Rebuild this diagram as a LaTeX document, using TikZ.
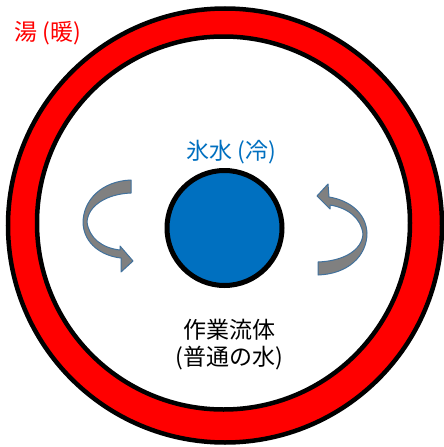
\documentclass[tikz,border=0pt]{standalone}
\usepackage{fontspec}
\setmainfont{Noto Sans CJK JP}
\definecolor{hotred}{HTML}{FF0000}
\definecolor{iceblue}{HTML}{0070C0}
\definecolor{arrowgray}{HTML}{808080}
\definecolor{arrowedge}{HTML}{41719C}
\begin{document}
\begin{tikzpicture}[x=1pt,y=-1pt,
  ringline/.style={line width=4.5pt,draw=black},
  lbl/.style={inner sep=0pt,font=\fontsize{23}{27}\selectfont},
  curvearrow/.style={fill=arrowgray,draw=arrowedge,line width=1pt,line join=round}]
\useasboundingbox (0,0) rectangle (444,447);
% outer hot ring
\fill[white] (0,0) rectangle (444,447);
\filldraw[ringline,fill=hotred] (225,225.5) circle (217);
\filldraw[ringline,fill=white] (223.5,223) circle (186.5);
% ice water
\filldraw[line width=5pt,draw=black,fill=iceblue] (224.5,228) coordinate (c) circle (57.5);
% curved arrows
\begin{scope}
\path[curvearrow] (131,180) .. controls (102,181) and (83,200) .. (83,223)
  .. controls (84,244) and (102,256) .. (121,258)
  -- (121,272) -- (133,261) -- (120,246) -- (120,250)
  .. controls (102,248) and (89,238) .. (87,222)
  .. controls (88,206) and (106,194) .. (131,193) -- cycle;
\end{scope}
\begin{scope}[rotate around={180:(225,228)}]
\path[curvearrow] (132,181) .. controls (102,182) and (83,200) .. (83,223)
  .. controls (84,244) and (102,256) .. (121,259)
  -- (122,272) -- (133,260) -- (120,247) -- (120,251)
  .. controls (102,248) and (89,238) .. (87,222)
  .. controls (88,206) and (106,195) .. (132,194) -- cycle;
\end{scope}
% labels
\node[lbl,text=hotred] (hot) at (48,33) {湯 (暖)};
\node[lbl,text=iceblue] (ice) at (231,152) {氷水 (冷)};
\node[lbl,align=center] (fluid) at (229,345) {作業流体\\(普通の水)};
\end{tikzpicture}
\end{document}
